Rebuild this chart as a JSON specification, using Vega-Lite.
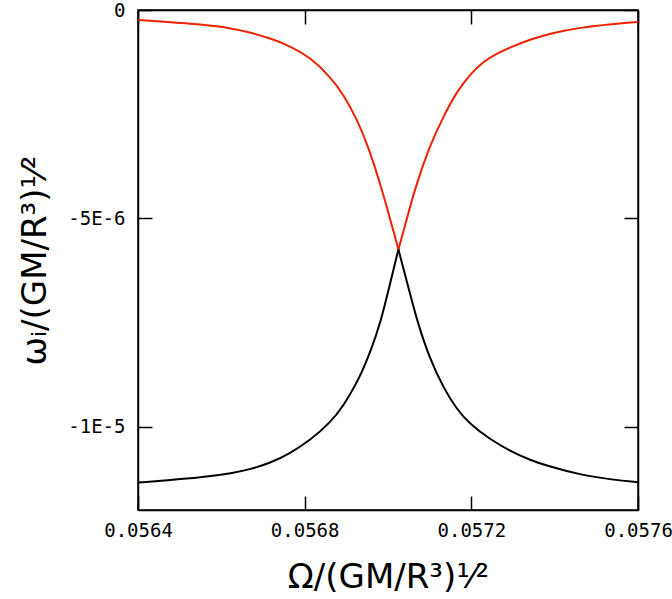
{
  "$schema": "https://vega.github.io/schema/vega-lite/v6.json",
  "width": 500,
  "height": 500,
  "autosize": {"type": "none"},
  "padding": {"left": 138, "top": 10, "right": 34, "bottom": 89},
  "background": "white",
  "config": {
    "view": {"stroke": "#000000", "strokeWidth": 1.5},
    "font": "DejaVu Sans Mono",
    "axis": {
      "domainColor": "#000000",
      "domainWidth": 1.5,
      "tickColor": "#000000",
      "tickWidth": 1.5,
      "tickSize": -14,
      "grid": false,
      "labelFlush": false,
      "labelFont": "DejaVu Sans Mono",
      "labelFontSize": 19,
      "labelColor": "#000000",
      "titleFont": "DejaVu Sans",
      "titleFontSize": 34,
      "titleFontWeight": "normal",
      "titleColor": "#000000"
    }
  },
  "datasets": {
    "curves": [
      {"omega": 0.056400, "wi": -2.40e-7, "branch": "upper", "segment": "upper-left"},
      {"omega": 0.056470, "wi": -2.83e-7, "branch": "upper", "segment": "upper-left"},
      {"omega": 0.056549, "wi": -3.43e-7, "branch": "upper", "segment": "upper-left"},
      {"omega": 0.056629, "wi": -4.43e-7, "branch": "upper", "segment": "upper-left"},
      {"omega": 0.056669, "wi": -5.39e-7, "branch": "upper", "segment": "upper-left"},
      {"omega": 0.056717, "wi": -6.78e-7, "branch": "upper", "segment": "upper-left"},
      {"omega": 0.056765, "wi": -8.63e-7, "branch": "upper", "segment": "upper-left"},
      {"omega": 0.056813, "wi": -1.133e-6, "branch": "upper", "segment": "upper-left"},
      {"omega": 0.056861, "wi": -1.598e-6, "branch": "upper", "segment": "upper-left"},
      {"omega": 0.056893, "wi": -2.025e-6, "branch": "upper", "segment": "upper-left"},
      {"omega": 0.056925, "wi": -2.612e-6, "branch": "upper", "segment": "upper-left"},
      {"omega": 0.056953, "wi": -3.276e-6, "branch": "upper", "segment": "upper-left"},
      {"omega": 0.056988, "wi": -4.385e-6, "branch": "upper", "segment": "upper-left"},
      {"omega": 0.057012, "wi": -5.272e-6, "branch": "upper", "segment": "upper-left"},
      {"omega": 0.057025, "wi": -5.745e-6, "branch": "upper", "segment": "upper-left"},
      {"omega": 0.057025, "wi": -5.745e-6, "branch": "upper", "segment": "upper-right"},
      {"omega": 0.057039, "wi": -5.248e-6, "branch": "upper", "segment": "upper-right"},
      {"omega": 0.057065, "wi": -4.265e-6, "branch": "upper", "segment": "upper-right"},
      {"omega": 0.057101, "wi": -3.235e-6, "branch": "upper", "segment": "upper-right"},
      {"omega": 0.057133, "wi": -2.557e-6, "branch": "upper", "segment": "upper-right"},
      {"omega": 0.057165, "wi": -1.958e-6, "branch": "upper", "segment": "upper-right"},
      {"omega": 0.057197, "wi": -1.546e-6, "branch": "upper", "segment": "upper-right"},
      {"omega": 0.057229, "wi": -1.234e-6, "branch": "upper", "segment": "upper-right"},
      {"omega": 0.057261, "wi": -1.050e-6, "branch": "upper", "segment": "upper-right"},
      {"omega": 0.057293, "wi": -8.99e-7, "branch": "upper", "segment": "upper-right"},
      {"omega": 0.057341, "wi": -7.07e-7, "branch": "upper", "segment": "upper-right"},
      {"omega": 0.057389, "wi": -5.63e-7, "branch": "upper", "segment": "upper-right"},
      {"omega": 0.057461, "wi": -4.19e-7, "branch": "upper", "segment": "upper-right"},
      {"omega": 0.057540, "wi": -3.35e-7, "branch": "upper", "segment": "upper-right"},
      {"omega": 0.057600, "wi": -2.88e-7, "branch": "upper", "segment": "upper-right"},
      {"omega": 0.056400, "wi": -1.1342e-5, "branch": "lower", "segment": "lower-left"},
      {"omega": 0.056470, "wi": -1.1286e-5, "branch": "lower", "segment": "lower-left"},
      {"omega": 0.056549, "wi": -1.1222e-5, "branch": "lower", "segment": "lower-left"},
      {"omega": 0.056629, "wi": -1.1114e-5, "branch": "lower", "segment": "lower-left"},
      {"omega": 0.056669, "wi": -1.1023e-5, "branch": "lower", "segment": "lower-left"},
      {"omega": 0.056717, "wi": -1.0875e-5, "branch": "lower", "segment": "lower-left"},
      {"omega": 0.056765, "wi": -1.0640e-5, "branch": "lower", "segment": "lower-left"},
      {"omega": 0.056813, "wi": -1.0328e-5, "branch": "lower", "segment": "lower-left"},
      {"omega": 0.056861, "wi": -9.904e-6, "branch": "lower", "segment": "lower-left"},
      {"omega": 0.056893, "wi": -9.506e-6, "branch": "lower", "segment": "lower-left"},
      {"omega": 0.056925, "wi": -8.945e-6, "branch": "lower", "segment": "lower-left"},
      {"omega": 0.056940, "wi": -8.627e-6, "branch": "lower", "segment": "lower-left"},
      {"omega": 0.056957, "wi": -8.219e-6, "branch": "lower", "segment": "lower-left"},
      {"omega": 0.056981, "wi": -7.548e-6, "branch": "lower", "segment": "lower-left"},
      {"omega": 0.057005, "wi": -6.566e-6, "branch": "lower", "segment": "lower-left"},
      {"omega": 0.057025, "wi": -5.745e-6, "branch": "lower", "segment": "lower-left"},
      {"omega": 0.057025, "wi": -5.745e-6, "branch": "lower", "segment": "lower-right"},
      {"omega": 0.057046, "wi": -6.542e-6, "branch": "lower", "segment": "lower-right"},
      {"omega": 0.057070, "wi": -7.476e-6, "branch": "lower", "segment": "lower-right"},
      {"omega": 0.057101, "wi": -8.387e-6, "branch": "lower", "segment": "lower-right"},
      {"omega": 0.057133, "wi": -9.065e-6, "branch": "lower", "segment": "lower-right"},
      {"omega": 0.057165, "wi": -9.585e-6, "branch": "lower", "segment": "lower-right"},
      {"omega": 0.057197, "wi": -9.945e-6, "branch": "lower", "segment": "lower-right"},
      {"omega": 0.057245, "wi": -1.0304e-5, "branch": "lower", "segment": "lower-right"},
      {"omega": 0.057293, "wi": -1.0584e-5, "branch": "lower", "segment": "lower-right"},
      {"omega": 0.057341, "wi": -1.0800e-5, "branch": "lower", "segment": "lower-right"},
      {"omega": 0.057381, "wi": -1.0939e-5, "branch": "lower", "segment": "lower-right"},
      {"omega": 0.057461, "wi": -1.1155e-5, "branch": "lower", "segment": "lower-right"},
      {"omega": 0.057540, "wi": -1.1275e-5, "branch": "lower", "segment": "lower-right"},
      {"omega": 0.057600, "wi": -1.1334e-5, "branch": "lower", "segment": "lower-right"}
    ]
  },
  "data": {"name": "curves"},
  "layer": [
    {
      "mark": {"type": "line", "strokeWidth": 2, "interpolate": "basis"},
      "encoding": {
        "x": {
          "field": "omega", "type": "quantitative",
          "scale": {"domain": [0.0564, 0.0576], "nice": false, "zero": false},
          "axis": {
            "values": [0.0564, 0.0568, 0.0572, 0.0576],
            "format": ".4f",
            "labelPadding": 25,
            "title": "Ω/(GM/R³)¹⁄²",
            "titlePadding": 20
          }
        },
        "y": {
          "field": "wi", "type": "quantitative",
          "scale": {"domain": [-1.2e-5, 0], "nice": false, "zero": false},
          "axis": {
            "values": [-1e-5, -5e-6, 0],
            "labelExpr": "datum.value == 0 ? '0' : datum.value == -5e-6 ? '-5E-6' : '-1E-5'",
            "labelPadding": 27,
            "title": "ωᵢ/(GM/R³)¹⁄²",
            "titlePadding": 15
          }
        },
        "color": {
          "field": "branch", "type": "nominal",
          "scale": {"domain": ["upper", "lower"], "range": ["#ee2200", "#000000"]},
          "legend": null
        },
        "detail": {"field": "segment"}
      }
    },
    {
      "mark": {"type": "line", "opacity": 0},
      "encoding": {
        "x": {
          "field": "omega", "type": "quantitative",
          "axis": {"orient": "top", "values": [0.0564, 0.0568, 0.0572, 0.0576], "labels": false, "title": null}
        },
        "y": {
          "field": "wi", "type": "quantitative",
          "axis": {"orient": "right", "values": [-1e-5, -5e-6, 0], "labels": false, "title": null}
        },
        "detail": {"field": "segment"}
      }
    }
  ],
  "resolve": {"axis": {"x": "independent", "y": "independent"}}
}
